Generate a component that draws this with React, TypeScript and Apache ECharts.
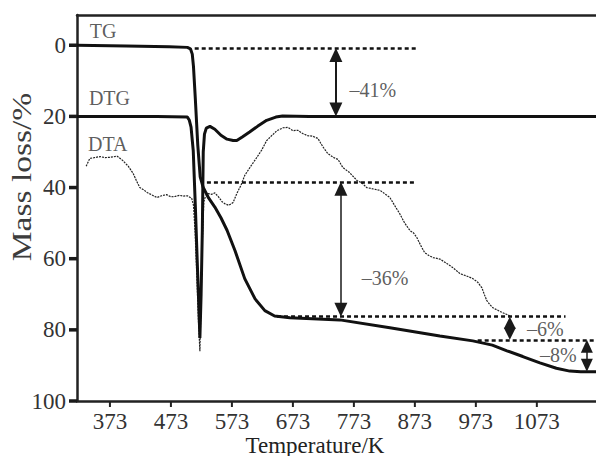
import React, { useEffect, useRef } from "react";
import * as echarts from "echarts";

const X_MIN = 319;
const X_MAX = 1170;
const Y_MIN = -8.5;
const Y_MAX = 100;

const xTicks = [373, 473, 573, 673, 773, 873, 973, 1073];
const yTicks = [0, 20, 40, 60, 80, 100];

// TG curve (mass loss %)
const tgT = [319, 400, 470, 500, 505, 508, 510, 513, 517, 521, 526, 535, 545, 555, 565, 578, 594, 611, 627, 643, 668, 750, 832, 914, 968, 1000, 1024, 1050, 1078, 1105, 1127, 1145, 1170];
const tgV = [0, 0.2, 0.4, 0.6, 1.0, 2.5, 6, 15, 28, 37, 40, 43, 45.5, 48.5, 52, 57.7, 65.6, 71.3, 74.6, 76.1, 76.6, 77.2, 79.4, 81.7, 83.1, 84.3, 85.9, 87.5, 89.3, 90.8, 91.6, 91.8, 91.8];

// DTG curve
const dtgT = [319, 450, 500, 503, 506, 509.6, 513, 516, 518.5, 520.5, 522.5, 524.5, 526, 528, 531, 537, 545, 555, 565, 575, 581, 590, 602, 615, 630, 645, 656, 700, 800, 1170];
const dtgV = [20, 20, 20.2, 21, 23, 29.6, 45, 60, 72, 82.3, 70, 52, 30, 25, 23.3, 22.8, 23.6, 25.3, 26.4, 26.8, 26.8, 25.8, 24.4, 22.8, 21.1, 20.2, 19.9, 20, 20, 20];

// DTA curve
const dtaT = [334, 340, 347, 357, 365, 373, 385, 394, 403, 411, 417, 422, 428, 434, 442, 450, 458, 466, 473, 480, 487, 493, 500, 507, 510, 512.5, 515.5, 518, 520.5, 522.5, 524.5, 527, 529, 534, 540, 545, 551, 557, 562, 568, 575, 581, 588, 594, 604, 614, 622, 630, 639, 647, 657, 665, 673, 681, 689, 697, 706, 714, 722, 730, 739, 747, 755, 766, 778, 786, 794, 805, 816, 824, 832, 840, 848, 856, 865, 871, 876, 883, 889, 896, 903, 914, 926, 936, 947, 957, 968, 976, 983, 987, 991, 996, 1001, 1009, 1017, 1023, 1029];
const dtaV = [34, 31.8, 31.6, 31.3, 31.6, 31.5, 31.2, 32.4, 34, 36, 38.3, 40, 40.6, 41.4, 42.1, 42.8, 42.3, 42, 42.6, 42.5, 42.2, 42.4, 42.3, 43, 45, 52, 65, 77, 86, 72, 55, 44, 42.8, 41.7, 41.9, 41.5, 42.6, 44, 44.6, 45, 44.2, 41.7, 39.3, 36.6, 34, 31.5, 29.4, 26.8, 25.3, 24, 23.2, 23.1, 24, 23.9, 24.8, 25.4, 25.6, 26.2, 28.5, 30.4, 31.5, 32.1, 34.4, 35.8, 38, 38.7, 40, 40.4, 40.8, 41.8, 42.8, 45.1, 47.3, 49.9, 52.1, 52.8, 54, 56.4, 58.3, 59.1, 59.7, 60.1, 61.4, 62.6, 64.2, 64.8, 65.6, 66.6, 68.2, 70.1, 71.8, 72.9, 73.8, 74.5, 75.2, 75.6, 76.1];

// Annotation texts
const noteTexts = ["TG", "DTG", "DTA", "\u201341%", "\u201336%", "\u20136%", "\u20138%"];
const noteT = [340, 338.5, 337, 766, 786, 1057, 1078];
const noteV = [-3.9, 14.9, 27.9, 12.7, 65.4, 79.7, 87];

// Reference (dotted) levels
const levelV = [0.8, 38.4, 76.3, 82.8];
const levelFrom = [512, 532, 647, 976];
const levelTo = [878, 873, 1120, 1170];

// Measured steps (double arrows)
const stepT = [743.5, 751.7, 1028.7, 1155];
const stepFrom = [0.8, 38.4, 76.3, 82.8];
const stepTo = [20, 76.3, 82.8, 91.8];

const SERIF = "'Liberation Serif', 'Times New Roman', Times, serif";

export default function App() {
  const ref = useRef<HTMLDivElement>(null);
  useEffect(() => {
    const chart = echarts.init(ref.current!, null, { renderer: "svg" });
    const pxPerUnit = 386 / (Y_MAX - Y_MIN);
    const arrowSizes: [number, number][] = [[13, 14], [13, 14], [12, 12], [12, 13]];
    const arrowWidths = [2, 1.5, 1.5, 1.5];
    const arrows = stepT.map((t, i) => {
      const off = arrowSizes[i][1] / 2 / pxPerUnit;
      return [
        { coord: [t, stepFrom[i] + off], symbol: "triangle", symbolSize: arrowSizes[i], lineStyle: { width: arrowWidths[i], type: "solid", color: "#1a1a1a" } },
        { coord: [t, stepTo[i] - off], symbol: "triangle", symbolSize: arrowSizes[i] },
      ];
    });
    const levels = levelV.map((v, i) => [
      { coord: [levelFrom[i], v], symbol: "none" },
      { coord: [levelTo[i], v], symbol: "none" },
    ]);
    const tickLabel = (v: number) => String(v);
    chart.setOption({
      animation: false,
      backgroundColor: "#fff",
      grid: { left: 77, right: 0, top: 15, bottom: 55, containLabel: false },
      xAxis: [
        {
          type: "value",
          min: X_MIN,
          max: X_MAX,
          position: "bottom",
          axisLine: { onZero: false, lineStyle: { color: "#222", width: 2.5 } },
          axisTick: { show: false },
          axisLabel: { customValues: xTicks, formatter: tickLabel, margin: 11, lineHeight: 18, fontFamily: SERIF, fontSize: 23, color: "#333" },
          splitLine: { show: false },
        },
        {
          type: "value",
          min: X_MIN,
          max: X_MAX,
          position: "top",
          axisLine: { onZero: false, lineStyle: { color: "#222", width: 2.5 } },
          axisTick: { show: false },
          axisLabel: { show: false },
          splitLine: { show: false },
        },
      ],
      yAxis: {
        type: "value",
        inverse: true,
        min: Y_MIN,
        max: Y_MAX,
        axisLine: { show: true, onZero: false, lineStyle: { color: "#222", width: 2.5 } },
        axisTick: { show: false },
        axisLabel: { customValues: yTicks, formatter: tickLabel, margin: 11, fontFamily: SERIF, fontSize: 23, color: "#333" },
        splitLine: { show: false },
      },
      graphic: [
        {
          type: "text",
          x: 22,
          y: 177,
          rotation: Math.PI / 2,
          scaleX: 1.24,
          style: { text: "Mass loss/%", fontFamily: SERIF, fontSize: 27, fill: "#3c3c3c", align: "center", verticalAlign: "middle" },
        },
        {
          type: "text",
          x: 315,
          y: 445,
          style: { text: "Temperature/K", fontFamily: SERIF, fontSize: 23, lineHeight: 18, fill: "#222", align: "center", verticalAlign: "middle" },
        },
      ],
      series: [
        {
          name: "yTicks",
          type: "custom",
          coordinateSystem: "cartesian2d",
          clip: false,
          silent: true,
          data: yTicks.map((v) => [X_MIN, v]),
          renderItem: (_p: any, api: any) => {
            const pt = api.coord([api.value(0), api.value(1)]);
            return {
              type: "rect",
              shape: { x: pt[0] - 8, y: pt[1] - 1.75, width: 8, height: 3.5 },
              style: { fill: "#1a1a1a" },
            };
          },
          z: 10,
        },
        {
          name: "xTicks",
          type: "custom",
          coordinateSystem: "cartesian2d",
          clip: false,
          silent: true,
          data: xTicks.map((t) => [t, Y_MAX]),
          renderItem: (_p: any, api: any) => {
            const pt = api.coord([api.value(0), api.value(1)]);
            return {
              type: "rect",
              shape: { x: pt[0] - 1, y: pt[1], width: 2, height: 6 },
              style: { fill: "#222" },
            };
          },
          z: 10,
        },
        {
          name: "DTA",
          type: "line",
          data: dtaT.map((t, i) => [t, dtaV[i]]),
          symbol: "none",
          lineStyle: { color: "#222", width: 1.2, type: [2, 1] },
          silent: true,
          z: 2,
          markLine: {
            silent: true,
            symbol: "none",
            label: { show: false },
            lineStyle: { color: "#111", width: 2.5, type: [4, 3] },
            data: levels,
          },
        },
        {
          name: "DTG",
          type: "line",
          data: dtgT.map((t, i) => [t, dtgV[i]]),
          symbol: "none",
          lineStyle: { color: "#111", width: 3 },
          silent: true,
          z: 3,
        },
        {
          name: "TG",
          type: "line",
          data: tgT.map((t, i) => [t, tgV[i]]),
          symbol: "none",
          lineStyle: { color: "#111", width: 3 },
          silent: true,
          z: 4,
          markLine: {
            silent: true,
            label: { show: false },
            itemStyle: { color: "#1a1a1a" },
            lineStyle: { color: "#1a1a1a", type: "solid" },
            data: arrows,
          },
        },
        {
          name: "notes",
          type: "scatter",
          data: noteT.map((t, i) => [t, noteV[i], noteTexts[i]]),
          symbolSize: 0,
          silent: true,
          clip: false,
          label: {
            show: true,
            position: "right",
            distance: 0,
            formatter: (p: any) => p.value[2],
            fontFamily: SERIF,
            fontSize: 20,
            color: "#333",
          },
          z: 5,
        },
      ],
    });
    return () => chart.dispose();
  }, []);
  return (
    <div
      ref={ref}
      style={{ position: "absolute", left: 0, top: 0, width: 596, height: 456, background: "#fff" }}
    />
  );
}
